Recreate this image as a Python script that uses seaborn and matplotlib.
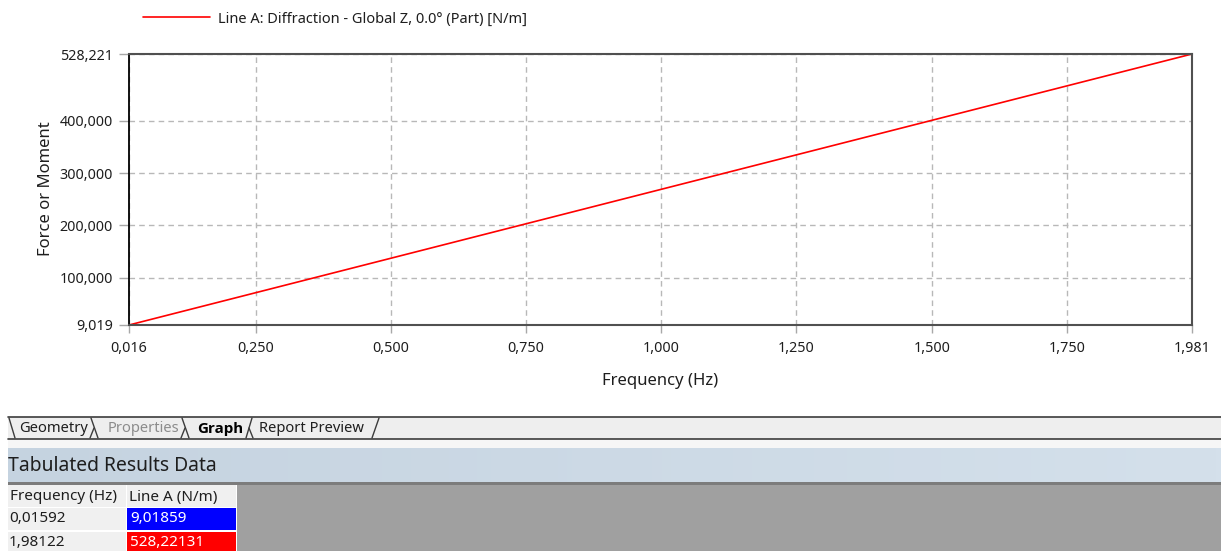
import numpy as np
import pandas as pd
import matplotlib
matplotlib.use("Agg")
import matplotlib.pyplot as plt
import seaborn as sns
from matplotlib.patches import Rectangle
from matplotlib.lines import Line2D

# Result data
frequency_hz = [0.01592, 1.98122]
line_a_n_per_m = [9.01859, 528.22131]

series_label = "Line A: Diffraction - Global Z, 0.0° (Part) [N/m]"
x_title = "Frequency (Hz)"
y_title = "Force or Moment"
x_inner_ticks = [0.25, 0.5, 0.75, 1.0, 1.25, 1.5, 1.75]
y_inner_ticks = [100, 200, 300, 400]
tab_names = ["Geometry", "Properties", "Graph", "Report Preview"]
table_title = "Tabulated Results Data"
table_headers = ["Frequency (Hz)", "Line A (N/m)"]

W, H = 1221, 551
sns.set_theme(style="white")
plt.rcParams["font.family"] = ["Noto Sans", "DejaVu Sans"]
TXT = "#1e1e1e"

fig = plt.figure(figsize=(W / 100, H / 100), dpi=100)
fig.patch.set_facecolor("white")


def fx(px):
    return px / W


def fy(py):
    return 1 - py / H


def rect(x0, y0, x1, y1, **kw):
    fig.add_artist(Rectangle((fx(x0), fy(y1)), (x1 - x0) / W, (y1 - y0) / H,
                             transform=fig.transFigure, linewidth=0, **kw))


def seg(x0, y0, x1, y1, **kw):
    fig.add_artist(Line2D([fx(x0), fx(x1)], [fy(y0), fy(y1)],
                          transform=fig.transFigure, **kw))


def label(px, py, s, **kw):
    fig.text(fx(px), fy(py), s, va="center", **kw)


# ---- chart ----
ax = fig.add_axes([fx(129), fy(325), (1192 - 129) / W, (325 - 54) / H])
df = pd.DataFrame({"Frequency": frequency_hz, "Value": line_a_n_per_m})
sns.lineplot(data=df, x="Frequency", y="Value", ax=ax, color="#ff0000",
             linewidth=1.2, label=series_label)

ax.set_xlim(frequency_hz[0], frequency_hz[-1])
ax.set_ylim(line_a_n_per_m[0], line_a_n_per_m[-1])


def fmt3(v):
    return f"{v:.3f}".replace(".", ",")


xt = [frequency_hz[0]] + x_inner_ticks + [frequency_hz[-1]]
yt = [line_a_n_per_m[0]] + y_inner_ticks + [line_a_n_per_m[-1]]
ax.set_xticks(xt, [fmt3(v) for v in xt])
ax.set_yticks(yt, [fmt3(v) for v in yt])
ax.grid(True, color="#b8b8b8", linestyle=(0, (4, 3)), linewidth=1)
ax.set_axisbelow(True)

ax.tick_params(axis="y", length=7.2, width=1, color="#a8a8a8", pad=4.3,
               labelsize=10.3, labelcolor=TXT, left=True)
ax.tick_params(axis="x", length=5.8, width=1, color="#a8a8a8", pad=6.0,
               labelsize=10.3, labelcolor=TXT, bottom=True)

for name, sp in ax.spines.items():
    sp.set_visible(True)
    sp.set_color("#000000" if name == "left" else "#505050")
    sp.set_linewidth(1.3 if name == "left" else 1.5)

ax.set_xlabel(x_title, fontsize=12, color=TXT)
ax.xaxis.label.set_va("center")
ax.xaxis.set_label_coords((660 - 129) / 1063, (325 - 381) / 271)
ax.set_ylabel(y_title, fontsize=12, color=TXT)
ax.yaxis.label.set_va("center")
ax.yaxis.set_label_coords((46 - 129) / 1063, (325 - 189) / 271)

ax.legend(loc="center left", bbox_to_anchor=(fx(143), fy(19)),
          bbox_transform=fig.transFigure, frameon=False, handlelength=4.6,
          handletextpad=0.55, fontsize=10.5, borderaxespad=0, borderpad=0,
          labelcolor=TXT)

# ---- tab strip ----
rect(8, 417, W, 439, facecolor="#eeeeee")
seg(8, 417, W, 417, color="#3c3c3c", linewidth=1.2)
seg(8, 439, W, 439, color="#3c3c3c", linewidth=1.2)
rect(8, 440, W, 448, facecolor="#f6f6f6")

tab_x = [19, 108, 197, 259]
tab_colors = [TXT, "#8c8c8c", "#000000", TXT]
tab_weights = ["normal", "normal", "bold", "normal"]
for name, x, c, w in zip(tab_names, tab_x, tab_colors, tab_weights):
    fam = ["Open Sans", "DejaVu Sans"] if w == "bold" else ["Noto Sans", "DejaVu Sans"]
    size = 10.9 if w == "bold" else 10.6
    label(x, 429, name, fontsize=size, color=c, fontweight=w, family=fam)

edge = dict(color="#3c3c3c", linewidth=1.0)
seg(9, 418, 15, 438, **edge)
for bx in (91, 182):
    seg(bx, 418, bx + 7, 438, **edge)
    seg(bx - 1, 438, bx + 3, 428, **edge)
seg(246, 438, 252, 418, **edge)
seg(249, 428, 253, 438, **edge)
seg(372, 438, 379, 418, **edge)

# ---- results header ----
gax = fig.add_axes([fx(8), fy(482), (W - 8) / W, (482 - 448) / H])
grad = np.linspace(0, 1, 256)[None, :, None]
c0 = np.array([0xc5, 0xd3, 0xe0]) / 255
c1 = np.array([0xd4, 0xe0, 0xeb]) / 255
gax.imshow(c0 + (c1 - c0) * grad, aspect="auto", extent=(0, 1, 0, 1))
gax.set_axis_off()
label(8, 466, table_title, fontsize=13.9, color=TXT)
rect(8, 482, W, 485, facecolor="#7c7c7c")

# ---- table ----
rect(8, 485, W, H, facecolor="#a0a0a0")
rect(8, 485, 237, H, facecolor="#ffffff")
cols = [(8, 126), (127, 236)]
rows = [(485, 507), (508, 530), (532, H + 2)]
for (x0, x1), head in zip(cols, table_headers):
    rect(x0, rows[0][0], x1, rows[0][1], facecolor="#f0f0f0")
    label(x0 + 2, 497, head, fontsize=11, color=TXT)

cell_fill = ["#0000ff", "#ff0000"]
text_y = [519, 542]
for (y0, y1), yc, f, v, fill in zip(rows[1:], text_y, frequency_hz, line_a_n_per_m, cell_fill):
    rect(cols[0][0], y0, cols[0][1], y1, facecolor="#f0f0f0")
    rect(cols[1][0], y0, cols[1][1], y1, facecolor=fill)
    label(cols[0][0] + 1, yc, f"{f:.5f}".replace(".", ","), fontsize=11, color=TXT)
    label(cols[1][0] + 3, yc, f"{v:.5f}".replace(".", ","), fontsize=11, color="#ffffff")

fig.savefig("out.png", dpi=100)
